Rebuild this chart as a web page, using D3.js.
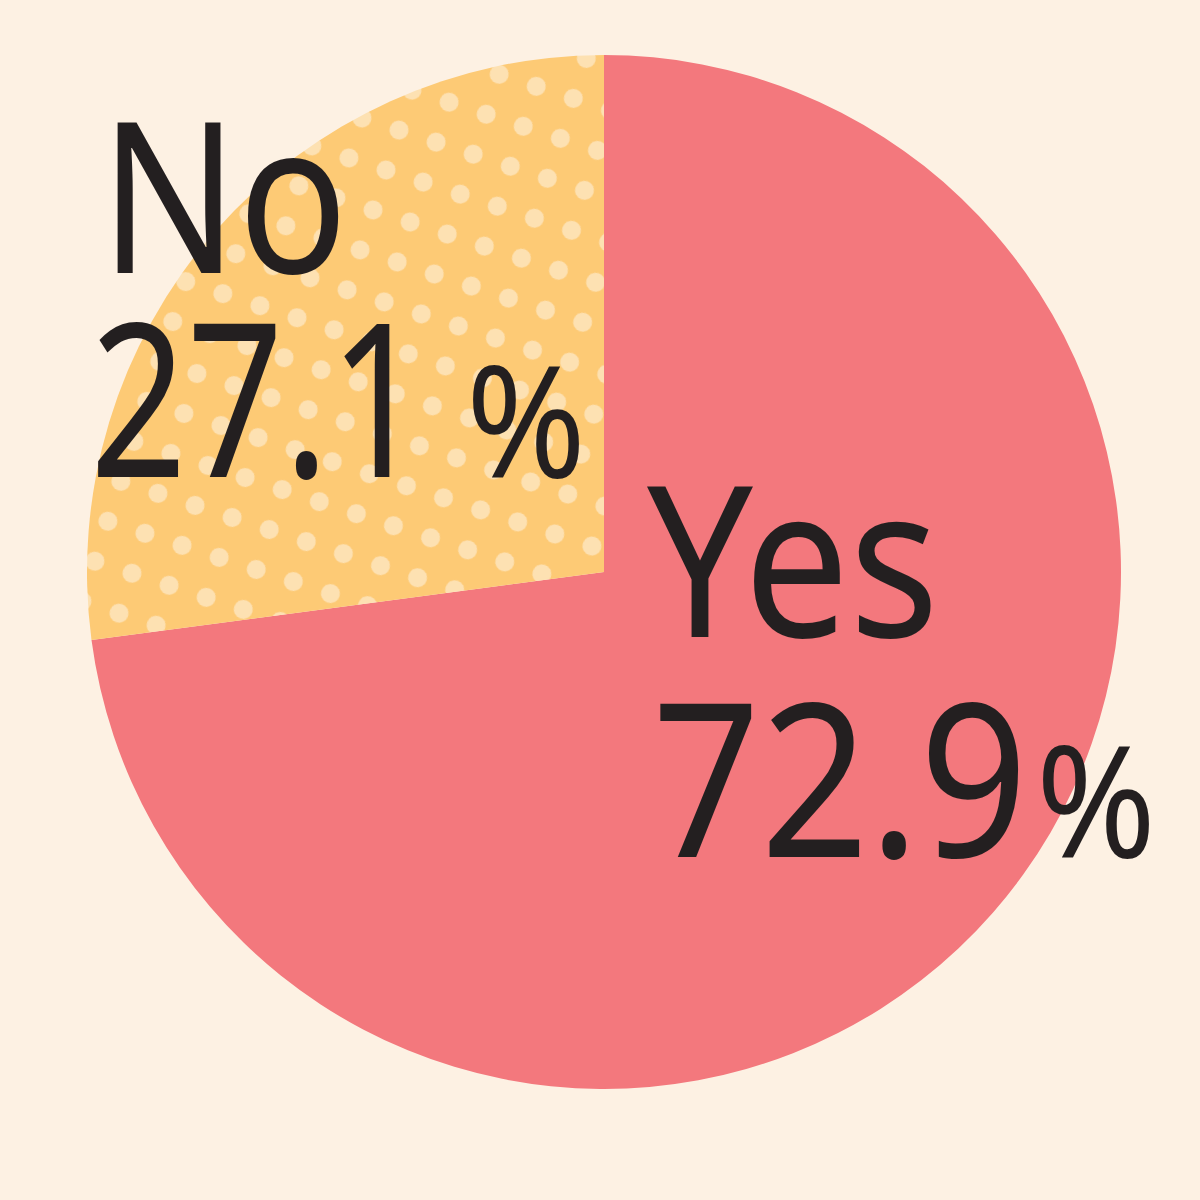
<!DOCTYPE html>
<html>
<head>
<meta charset="utf-8">
<script src="https://cdn.jsdelivr.net/npm/d3@7"></script>
<style>
html,body{margin:0;padding:0;background:#FDF1E3;}
svg{display:block;}
</style>
</head>
<body>
<svg id="chart" width="1200" height="1200"></svg>
<script>
const categories = ["Yes", "No"];
const values = [72.9, 27.1];
const valueLabels = ["72.9", "27.1"];
const colors = ["#F3787D", "url(#dots)"];

const svg = d3.select("#chart");
svg.append("rect").attr("width", 1200).attr("height", 1200).attr("fill", "#FDF1E3");

const defs = svg.append("defs");
const pat = defs.append("pattern")
  .attr("id", "dots")
  .attr("patternUnits", "userSpaceOnUse")
  .attr("width", 39).attr("height", 42)
  .attr("patternTransform", "rotate(18)");
pat.append("rect").attr("width", 39).attr("height", 42).attr("fill", "#FDCA75");
pat.append("circle").attr("cx", 19.5).attr("cy", 21).attr("r", 9.5).attr("fill", "#FDE1B2");

const cx = 604, cy = 572, r = 517;
const pie = d3.pie().sort(null).value(d => d);
const arc = d3.arc().innerRadius(0).outerRadius(r);
const g = svg.append("g").attr("transform", `translate(${cx},${cy})`);
g.selectAll("path").data(pie(values)).join("path")
  .attr("d", arc)
  .attr("fill", (d, i) => colors[i]);

const font = "'Noto Sans', 'Open Sans', sans-serif";
const ink = "#231F20";
const layout = [
  {nx: 647, ny: 637, nl: 292, vx: 652, vy: 857, vl: 376, px: 1036, pl: 120},
  {nx: 100, ny: 273, nl: 248, vx: 90, vy: 477, vl: 336, px: 466, pl: 120}
];
categories.forEach((c, i) => {
  const L = layout[i];
  svg.append("text").attr("x", L.nx).attr("y", L.ny)
    .attr("font-family", font).attr("font-size", 210).attr("fill", ink)
    .attr("textLength", L.nl).attr("lengthAdjust", "spacingAndGlyphs")
    .text(c);
  svg.append("text").attr("x", L.vx).attr("y", L.vy)
    .attr("font-family", font).attr("font-size", 214).attr("fill", ink)
    .attr("textLength", L.vl).attr("lengthAdjust", "spacingAndGlyphs")
    .text(valueLabels[i]);
  svg.append("text").attr("x", L.px).attr("y", L.vy)
    .attr("font-family", font).attr("font-size", 156).attr("fill", ink)
    .attr("textLength", L.pl).attr("lengthAdjust", "spacingAndGlyphs")
    .text("%");
});
</script>
</body>
</html>
